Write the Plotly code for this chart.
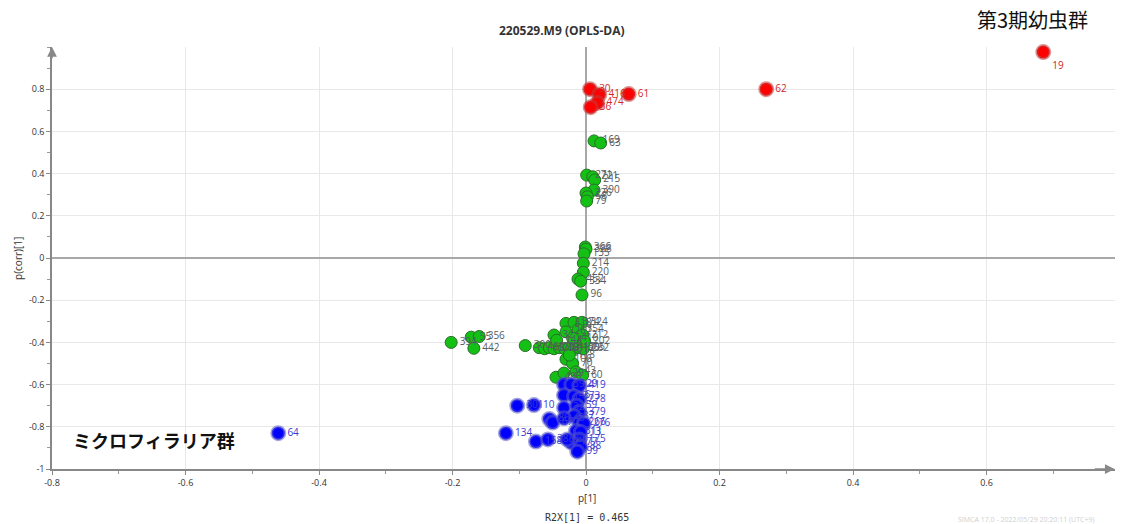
import plotly.graph_objects as go

# ---------------- data ----------------
red_ids = ["19", "62", "61", "30", "416", "474", "36"]
red_x = [0.685, 0.270, 0.064, 0.006, 0.020, 0.017, 0.007]
red_y = [0.976, 0.800, 0.777, 0.800, 0.775, 0.735, 0.715]

green_ids = ["169", "63",
             "271", "221", "215", "390", "226", "58", "79",
             "366", "388", "135", "214", "220", "452", "334", "96",
             "394", "55", "356", "442", "300",
             "481", "15", "170", "233", "12", "81", "417", "195", "305", "282",
             "318", "374", "324", "354", "32", "144", "267", "212", "202", "410",
             "106", "70", "403", "29", "43", "60", "118"]
green_x = [0.012, 0.022,
           0.001, 0.010, 0.013, 0.012, 0.000, 0.002, 0.001,
           -0.001, 0.000, -0.003, -0.004, -0.004, -0.012, -0.008, -0.006,
           -0.202, -0.172, -0.160, -0.168, -0.091,
           -0.070, -0.062, -0.055, -0.048, -0.040, -0.032, -0.025, -0.018, -0.010, -0.004,
           -0.030, -0.018, -0.006, -0.012, -0.048, -0.044, -0.030, -0.005, -0.002, -0.020,
           -0.030, -0.020, -0.045, -0.033, -0.015, -0.005, -0.025]
green_y = [0.555, 0.545,
           0.393, 0.385, 0.370, 0.322, 0.308, 0.290, 0.270,
           0.052, 0.042, 0.020, -0.025, -0.068, -0.100, -0.110, -0.175,
           -0.400, -0.375, -0.372, -0.428, -0.415,
           -0.425, -0.430, -0.425, -0.430, -0.425, -0.430, -0.425, -0.430, -0.425, -0.430,
           -0.310, -0.305, -0.305, -0.340, -0.365, -0.390, -0.350, -0.365, -0.395, -0.380,
           -0.480, -0.500, -0.565, -0.545, -0.540, -0.555, -0.460]

blue_ids = ["64", "301", "10", "86", "67", "134", "158", "388",
            "39", "129", "419", "146", "373", "278", "32", "59", "379", "87",
            "48", "266", "276", "311", "13", "175", "177", "80", "88", "99"]
blue_x = [-0.461, -0.103, -0.078, -0.055, -0.050, -0.120, -0.075, -0.057,
          -0.033, -0.022, -0.010, -0.033, -0.018, -0.010, -0.033, -0.014, -0.010, -0.018,
          -0.033, -0.010, -0.003, -0.015, -0.008, -0.010, -0.022, -0.028, -0.008, -0.013]
blue_y = [-0.830, -0.700, -0.697, -0.763, -0.780, -0.830, -0.870, -0.860,
          -0.600, -0.600, -0.605, -0.650, -0.655, -0.670, -0.710, -0.700, -0.730, -0.750,
          -0.760, -0.780, -0.785, -0.820, -0.825, -0.860, -0.875, -0.860, -0.895, -0.918]

x_ticks = [-0.8, -0.6, -0.4, -0.2, 0, 0.2, 0.4, 0.6]
y_ticks = [-1, -0.8, -0.6, -0.4, -0.2, 0, 0.2, 0.4, 0.6, 0.8]

# ---------------- figure ----------------
FONT = "Open Sans, DejaVu Sans"
fig = go.Figure()

fig.add_trace(go.Scatter(
    x=green_x, y=green_y, text=green_ids, mode="markers+text",
    textposition="middle right",
    textfont=dict(family=FONT, size=10, color="#555b60"),
    marker=dict(size=12, color="#14c014", line=dict(color="#2a6e2a", width=1)),
    cliponaxis=False, showlegend=False))

fig.add_trace(go.Scatter(
    x=blue_x, y=blue_y, text=blue_ids, mode="markers+text",
    textposition="middle right",
    textfont=dict(family=FONT, size=10, color="#3a3ad0"),
    marker=dict(size=13, color="#0000ff", line=dict(color="rgba(90,90,200,0.55)", width=3)),
    cliponaxis=False, showlegend=False))

red_pos = ["bottom right" if i == "19" else "middle right" for i in red_ids]
fig.add_trace(go.Scatter(
    x=red_x, y=red_y, text=red_ids, mode="markers+text",
    textposition=red_pos,
    textfont=dict(family=FONT, size=10, color="#d02828"),
    marker=dict(size=13, color="#ff0000", line=dict(color="rgba(190,60,60,0.55)", width=3)),
    cliponaxis=False, showlegend=False))

axis_common = dict(
    automargin=False,
    showgrid=True, gridcolor="#e8e8e8", gridwidth=1,
    showline=True, linecolor="#888888", linewidth=1.5,
    ticks="outside", ticklen=4, tickcolor="#888888",
    tickfont=dict(family=FONT, size=9, color="#333333"),
    zeroline=True, zerolinecolor="#a8a8a8",
    minor=dict(ticks="outside", ticklen=3, tickcolor="#999999", dtick=0.1, showgrid=False),
)

fig.update_xaxes(range=[-0.8, 0.7925], tickvals=x_ticks,
                 ticktext=[f"{v:g}" for v in x_ticks], zerolinewidth=2, **axis_common)
fig.update_yaxes(range=[-1.0, 1.0], tickvals=y_ticks,
                 ticktext=[f"{v:g}" for v in y_ticks], zerolinewidth=1.5, **axis_common)


def txt(x, y, s, size, family=FONT, color="#333333", xref="paper", yref="paper", **kw):
    d = dict(x=x, y=y, xref=xref, yref=yref, text=s, showarrow=False,
             xanchor="center", yanchor="middle",
             font=dict(family=family, size=size, color=color))
    d.update(kw)
    return d


annotations = [
    # axis arrows
    dict(x=-0.8, y=1.0, ax=-0.8, ay=0.94, xref="x", yref="y", axref="x", ayref="y",
         text="", showarrow=True, arrowhead=2, arrowsize=1.3, arrowwidth=1.5, arrowcolor="#888888"),
    dict(x=0.792, y=-1.0, ax=0.76, ay=-1.0, xref="x", yref="y", axref="x", ayref="y",
         text="", showarrow=True, arrowhead=2, arrowsize=1.3, arrowwidth=1.5, arrowcolor="#888888"),
    txt(0.48, 1.04, "<b>220529.M9 (OPLS-DA)</b>", 12),
    txt(0.922, 1.066, "第3期幼虫群", 20, family="Noto Sans CJK JP", color="#111111"),
    txt(-0.647, -0.862, "<b>ミクロフィラリア群</b>", 18, family="Noto Sans CJK JP",
        color="#111111", xref="x", yref="y"),
    txt(0.503, -0.069, "p[1]", 10),
    txt(0.503, -0.114, "R2X[1] = 0.465", 10, family="DejaVu Sans Mono, Liberation Mono"),
    txt(-0.032, 0.5, "p(corr)[1]", 10, textangle=-90),
    txt(0.85, -0.12, "SIMCA 17.0 - 2022/05/29 20:20:11 (UTC+9)", 7, color="#d0d0d0",
        xanchor="left"),
]

# page body has an 8px margin: shrink the figure accordingly
fig.update_layout(
    width=1117, height=516,
    margin=dict(l=44, r=10, t=39, b=55),
    paper_bgcolor="white", plot_bgcolor="white",
    annotations=annotations,
)

fig.write_html("out.html")
